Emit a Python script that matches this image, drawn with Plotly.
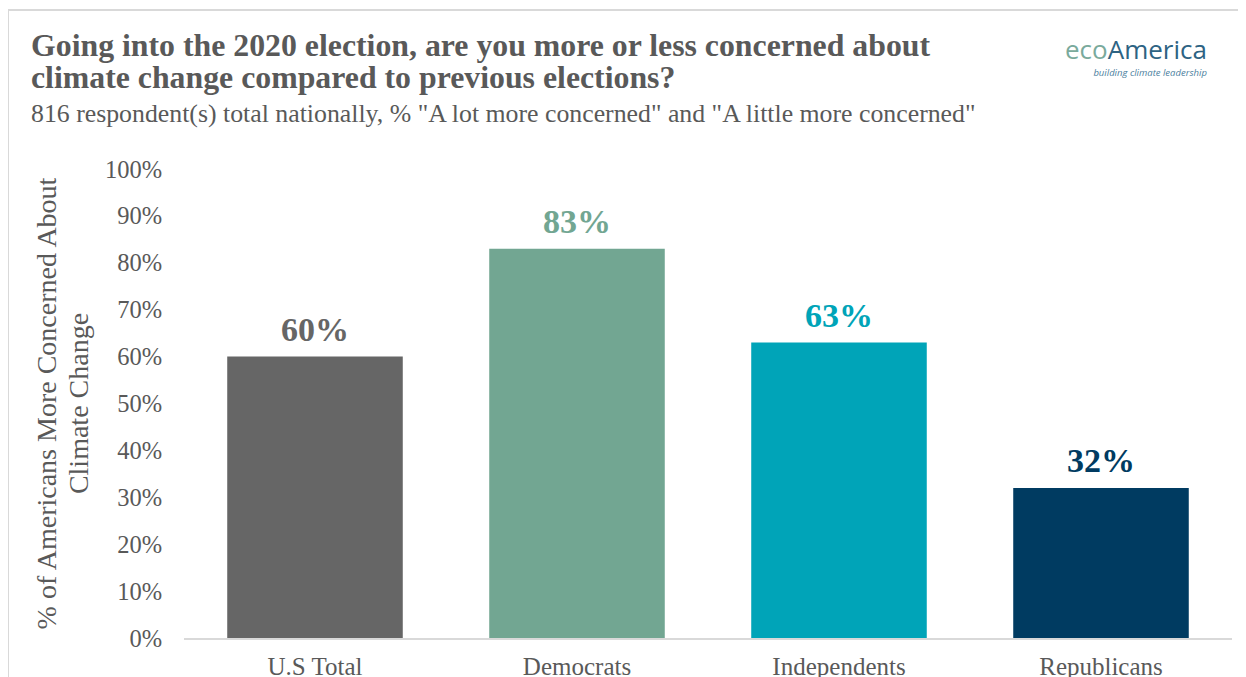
import plotly.graph_objects as go

categories = ["U.S Total", "Democrats", "Independents", "Republicans"]
values = [60, 83, 63, 32]
bar_colors = ["#666666", "#72a692", "#00a4b8", "#003b61"]
tick_vals = [0, 10, 20, 30, 40, 50, 60, 70, 80, 90, 100]
tick_text = [f"{v}%" for v in tick_vals]

FONT = "Liberation Serif"
GRAY = "#595959"

fig = go.Figure()
fig.add_trace(go.Bar(
    x=categories, y=values,
    marker=dict(color=bar_colors, line=dict(width=0)),
    hoverinfo="skip",
))

label_annotations = [
    dict(x=c, y=v, xref="x", yref="y", text=f"<b>{v}%</b>", showarrow=False,
         yanchor="bottom", yshift=7, font=dict(family=FONT, size=34, color=col))
    for c, v, col in zip(categories, values, bar_colors)
]

# plot area in figure px: left 176, right 1224, top 161, bottom 630 (page has 8px body offset)
def px(xf):
    return (xf - 176) / 1048

def py(yf):
    return (630 - yf) / 469

fig.update_layout(
    width=1246, height=677,
    paper_bgcolor="white", plot_bgcolor="white",
    margin=dict(l=176, r=22, t=161, b=47),
    bargap=0.33,
    showlegend=False,
    font=dict(family=FONT, color=GRAY),
    xaxis=dict(
        automargin=False,
        showline=True, linecolor="#d9d9d9", linewidth=2,
        showgrid=False, ticks="outside", ticklen=5, tickcolor="rgba(0,0,0,0)",
        tickfont=dict(size=25, color=GRAY),
        fixedrange=True,
    ),
    yaxis=dict(
        automargin=False,
        range=[0, 100], tickvals=tick_vals, ticktext=tick_text,
        showgrid=False, zeroline=False, showline=False,
        ticks="outside", ticklen=16, tickcolor="rgba(0,0,0,0)",
        tickfont=dict(size=24.5, color=GRAY),
        title=dict(text="<span style='font-size:28px'>% of Americans More Concerned About</span>"
                        "<br><span style='font-size:28px'>Climate Change</span>",
                   font=dict(size=24.5, color=GRAY), standoff=9),
        fixedrange=True,
    ),
    shapes=[
        dict(type="line", xref="paper", yref="paper", x0=px(0), x1=px(1250), y0=py(2), y1=py(2),
             line=dict(color="#d9d9d9", width=2)),
        dict(type="line", xref="paper", yref="paper", x0=px(0), x1=px(0), y0=py(2), y1=py(680),
             line=dict(color="#d9d9d9", width=2)),
    ],
    annotations=label_annotations + [
        dict(text="<span style='font-size:31.8px'><b>Going into the 2020 election, are you more or less concerned about</b></span>"
                  "<br><span style='font-size:31.8px'><b>climate change compared to previous elections?</b></span>",
             xref="paper", yref="paper", x=px(21), y=py(54), xanchor="left", yanchor="middle",
             align="left", showarrow=False, font=dict(size=24.5, color=GRAY, family=FONT)),
        dict(text="816 respondent(s) total nationally, % \"A lot more concerned\" and \"A little more concerned\"",
             xref="paper", yref="paper", x=px(21), y=py(105), xanchor="left", yanchor="middle",
             showarrow=False, font=dict(size=25.8, color=GRAY, family=FONT)),
        dict(text="<span style='font-size:26px;color:#7aaa9c'>eco</span><span style='font-size:26px;color:#2d6383'>America</span>"
                  "<br><span style='font-size:9.5px;color:#4d7fa0'><i>building climate leadership</i></span>",
             xref="paper", yref="paper", x=px(1201), y=py(47), xanchor="right", yanchor="middle",
             align="right", showarrow=False, font=dict(size=13, family="Open Sans")),
    ],
)

fig.write_html("out.html")
